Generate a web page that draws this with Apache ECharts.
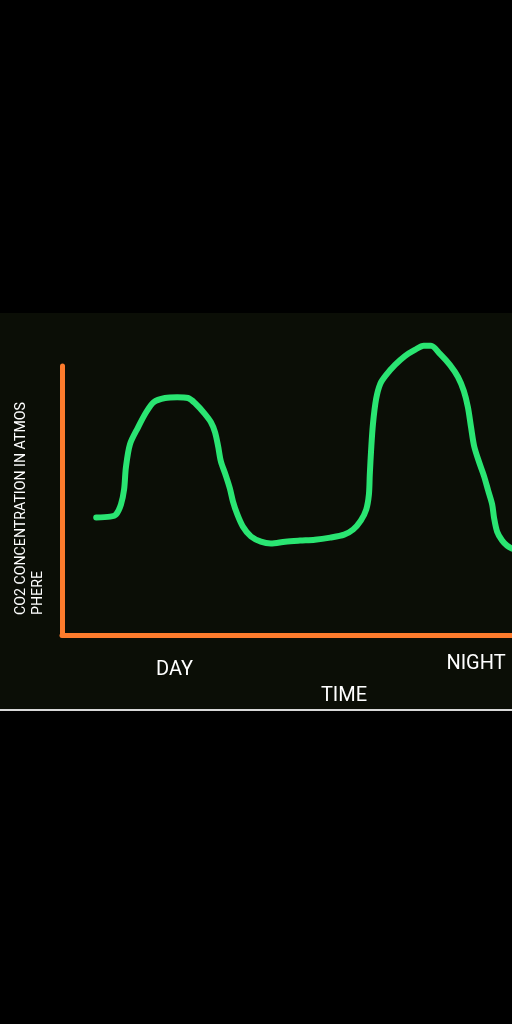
<!DOCTYPE html>
<html>
<head>
<meta charset="utf-8">
<style>
  html, body { margin: 0; padding: 0; background: #000; }
  #main { width: 512px; height: 1024px; }
</style>
<script src="https://cdn.jsdelivr.net/npm/echarts@6/dist/echarts.min.js"></script>
</head>
<body>
<div id="main"></div>
<script>
// time (0-100 across the axis) and CO2 level (0-100 up the axis)
var timeValues = [7.6, 10.7, 12.0, 13.1, 13.8, 14.2, 15.1, 16.9, 18.7, 20.4, 22.9, 25.6, 28.0, 29.8, 31.6,
    33.1, 34.0, 34.7, 35.3, 36.4, 37.3, 38.0, 38.9, 40.2, 42.0, 44.2, 46.4, 49.6, 52.9, 56.2,
    59.6, 62.7, 64.7, 66.4, 67.6, 68.2, 68.4, 68.7, 69.1, 69.8, 70.7, 72.0, 74.0, 76.2, 78.4,
    80.4, 82.0, 84.0, 86.2, 88.0, 89.3, 90.2, 90.9, 91.6, 92.7, 93.8, 94.7, 95.6, 96.0, 96.7,
    97.8, 98.9, 100];
var co2Values = [43.7, 44.0, 44.8, 48.5, 54.1, 62.3, 70.9, 77.2, 82.8, 86.6, 88.1, 88.4, 88.1, 85.8, 82.5,
    79.1, 75.4, 70.1, 64.6, 59.3, 54.5, 49.6, 45.1, 40.3, 36.6, 34.7, 34.0, 34.7, 35.1, 35.4,
    36.2, 37.3, 39.2, 42.5, 46.6, 52.2, 59.7, 69.0, 78.4, 87.7, 93.3, 96.6, 100.4, 103.7, 106.0,
    107.5, 107.5, 104.5, 100.4, 95.9, 90.7, 84.7, 77.2, 70.1, 64.2, 59.0, 53.7, 48.5, 43.7, 38.4,
    35.1, 33.2, 32.1];

var tickPositions = [25, 92];
var tickLabels = ['DAY', 'NIGHT'];

var seriesData = timeValues.map(function (t, i) { return [t, co2Values[i]]; });

var myChart = echarts.init(document.getElementById('main'));

var orange = '#fd7b2c';

var option = {
    backgroundColor: '#000000',
    animation: false,
    graphic: [
        {
            type: 'rect',
            z: -10,
            shape: { x: 0, y: 313, width: 512, height: 396 },
            style: { fill: '#0b0e06' }
        },
        {
            type: 'rect',
            z: -10,
            shape: { x: 0, y: 709, width: 512, height: 2 },
            style: { fill: '#d8d8d8' }
        },
        {
            type: 'text',
            x: 30,
            y: 615,
            rotation: Math.PI / 2,
            style: {
                text: 'CO2 CONCENTRATION IN ATMOS\nPHERE',
                fill: '#ffffff',
                font: '14.2px Roboto',
                lineHeight: 17.5,
                align: 'left',
                verticalAlign: 'middle'
            }
        }
    ],
    grid: {
        left: 62,
        right: 0,
        top: 366,
        bottom: 389
    },
    xAxis: {
        type: 'value',
        min: 0,
        max: 100,
        name: 'TIME',
        nameLocation: 'middle',
        nameGap: 51,
        nameTextStyle: {
            color: '#ffffff',
            fontFamily: 'Roboto',
            fontSize: 20,
            padding: [0, 0, 0, 114]
        },
        axisLine: { show: true, lineStyle: { color: orange, width: 5 } },
        axisTick: { show: false },
        splitLine: { show: false },
        axisLabel: {
            customValues: tickPositions,
            margin: 19,
            color: '#ffffff',
            fontFamily: 'Roboto',
            fontSize: 20,
            formatter: function (v) {
                var i = tickPositions.indexOf(v);
                return i === 0 ? '{d|' + tickLabels[i] + '}' : '{n|' + tickLabels[i] + '}';
            },
            rich: {
                d: { color: '#ffffff', fontFamily: 'Roboto', fontSize: 20, padding: [6, 0, 0, 0] },
                n: { color: '#ffffff', fontFamily: 'Roboto', fontSize: 20 }
            }
        }
    },
    yAxis: {
        type: 'value',
        min: 0,
        max: 100,
        axisLine: { show: true, lineStyle: { color: orange, width: 5 } },
        axisTick: { show: false },
        axisLabel: { show: false },
        splitLine: { show: false }
    },
    series: [
        {
            type: 'line',
            data: seriesData,
            smooth: 0.3,
            showSymbol: false,
            clip: false,
            lineStyle: { color: '#2ae572', width: 6, cap: 'round', join: 'round' }
        }
    ]
};

myChart.setOption(option);
</script>
</body>
</html>
